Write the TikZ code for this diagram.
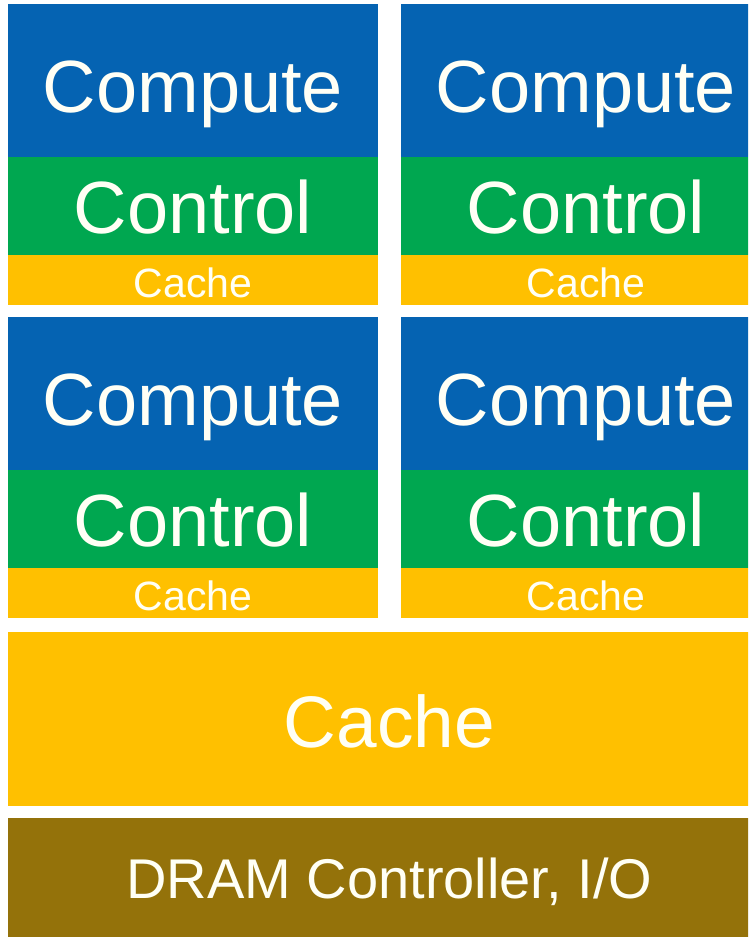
\documentclass[tikz,border=0pt]{standalone}
\usepackage{fontspec}
\setmainfont{Liberation Sans}
\definecolor{coreblue}{RGB}{5,99,178}
\definecolor{ctrlgreen}{RGB}{0,167,80}
\definecolor{cacheyellow}{RGB}{255,192,0}
\definecolor{drambrown}{RGB}{148,114,10}
\definecolor{labelwhite}{RGB}{255,255,245}
\tikzstyle{block} = [inner sep=0pt,anchor=north west,minimum width=370pt]
\tikzstyle{compute} = [block,fill=coreblue,minimum height=153pt]
\tikzstyle{control} = [block,fill=ctrlgreen,minimum height=98pt]
\tikzstyle{cache} = [block,fill=cacheyellow,minimum height=50pt]
\tikzstyle{biglabel} = [anchor=base,inner sep=0pt,text=labelwhite,font=\fontsize{74}{80}\selectfont]
\tikzstyle{smalllabel} = [anchor=base,inner sep=0pt,text=labelwhite,font=\fontsize{41}{45}\selectfont]
\begin{document}
\begin{tikzpicture}[x=1pt,y=-1pt]
\useasboundingbox (0,0) rectangle (748,937);
\fill[white] (0,0) rectangle (748,937);
\clip (0,0) rectangle (748,937);
\foreach \c/\cx in {0/8,1/401} {
	\foreach \r/\ry in {0/4,1/317} {
		\node[compute] (comp\c\r) at (\cx,\ry) {};
		\node[control] (ctrl\c\r) at (\cx,\ry+153) {};
		\node[cache] (cache\c\r) at (\cx,\ry+251) {};
		\node[biglabel] (comptxt\c\r) at (\cx+185,\ry+108) {Compute};
		\node[biglabel] (ctrltxt\c\r) at (\cx+185,\ry+229) {Control};
		\node[smalllabel] (cachetxt\c\r) at (\cx+185,\ry+293) {Cache};
	}
}
	\node[block,fill=cacheyellow,minimum width=763pt,minimum height=174pt] (l3) at (8,632) {};
	\node[biglabel,font=\fontsize{73}{80}\selectfont] (l3txt) at (389.5,747) {Cache};
	\node[block,fill=drambrown,minimum width=763pt,minimum height=130pt] (dram) at (8,818) {};
	\node[biglabel,font=\fontsize{56}{62}\selectfont] (dramtxt) at (389.5,898) {DRAM Controller, I/O};
\end{tikzpicture}
\end{document}
